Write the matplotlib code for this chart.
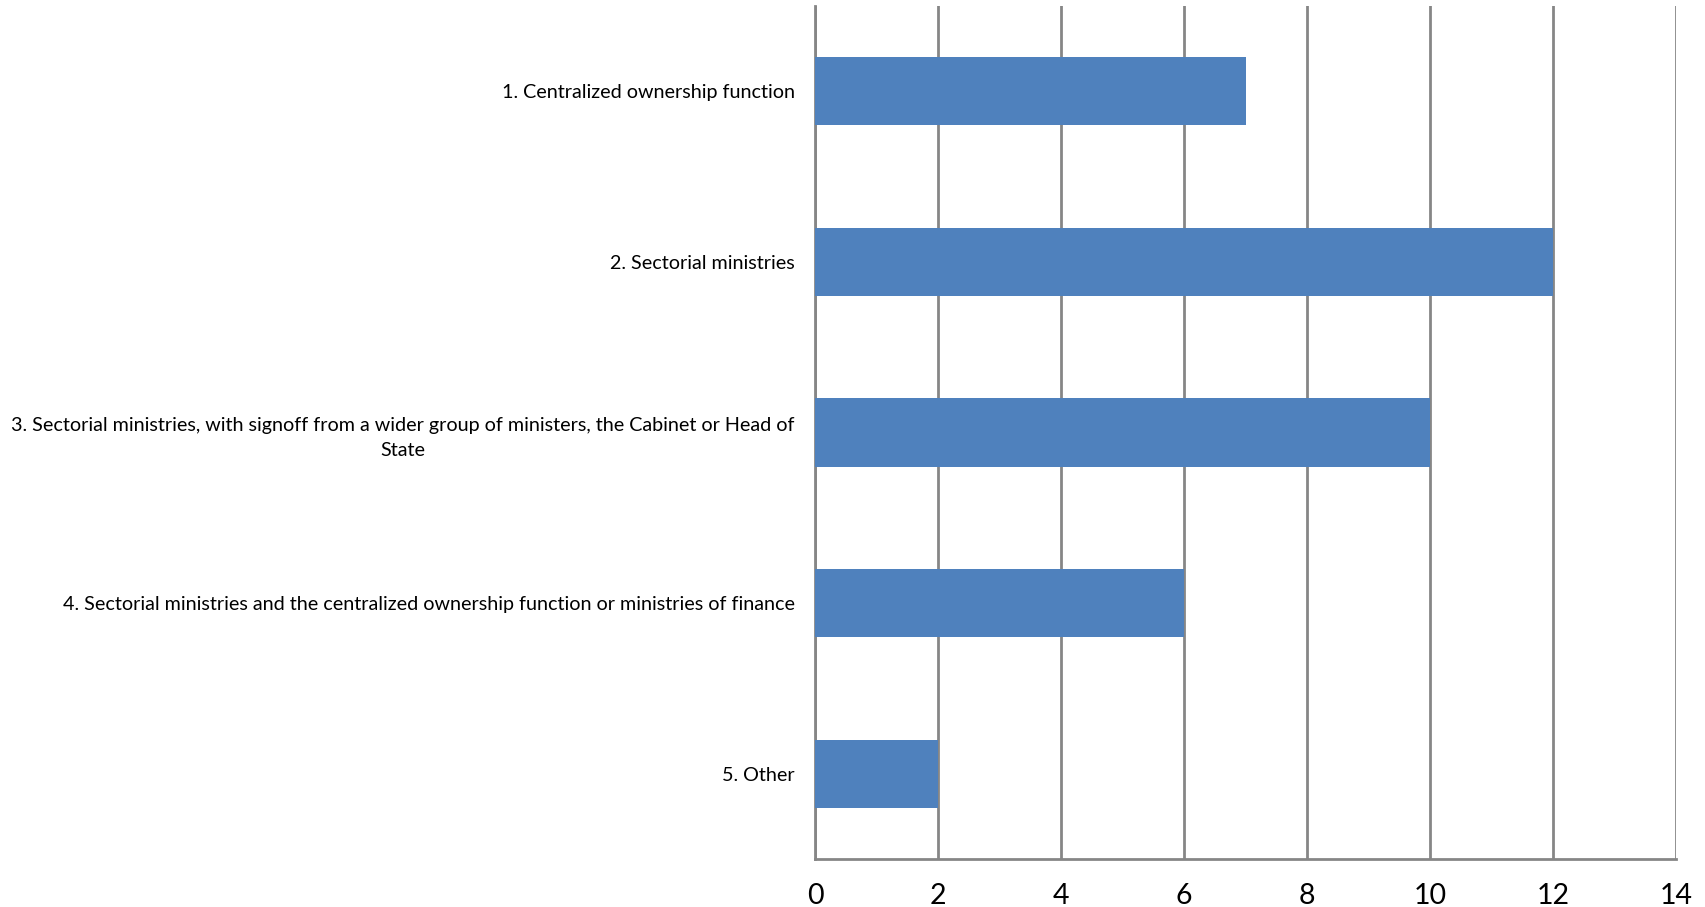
import matplotlib
matplotlib.use("Agg")
import matplotlib.pyplot as plt

categories = [
    "1. Centralized ownership function",
    "2. Sectorial ministries",
    "3. Sectorial ministries, with signoff from a wider group of ministers, the Cabinet or Head of\nState",
    "4. Sectorial ministries and the centralized ownership function or ministries of finance",
    "5. Other",
]
values = [7, 12, 10, 6, 2]
xticks = [0, 2, 4, 6, 8, 10, 12, 14]

plt.rcParams['font.family'] = ['Lato', 'DejaVu Sans']

fig = plt.figure(figsize=(17.05, 9.07), dpi=100)
ax = fig.add_axes([815/1705, 1 - 859/907, (1676-815)/1705, (859-6)/907])

ypos = list(range(len(categories)))
ax.barh(ypos, values, height=0.4, color="#4F81BD", zorder=3)
ax.set_ylim(len(categories) - 0.5, -0.5)
ax.set_xlim(0, 14)
ax.set_xticks(xticks)
ax.set_xticklabels([str(t) for t in xticks], fontsize=20.5)
ax.set_yticks(ypos)
ax.set_yticklabels(categories, fontsize=14.2, ha="right", multialignment="center",
                   linespacing=1.6)
ax.tick_params(axis="y", length=0, pad=14.5)
ax.tick_params(axis="x", length=0, pad=17)

ax.grid(axis="x", color="#868686", linewidth=2, zorder=0)
for side in ["top", "right"]:
    ax.spines[side].set_visible(False)
ax.spines["left"].set_color("#868686")
ax.spines["left"].set_linewidth(2)
ax.spines["bottom"].set_color("#868686")
ax.spines["bottom"].set_linewidth(2)

fig.savefig("out.png", dpi=100)
